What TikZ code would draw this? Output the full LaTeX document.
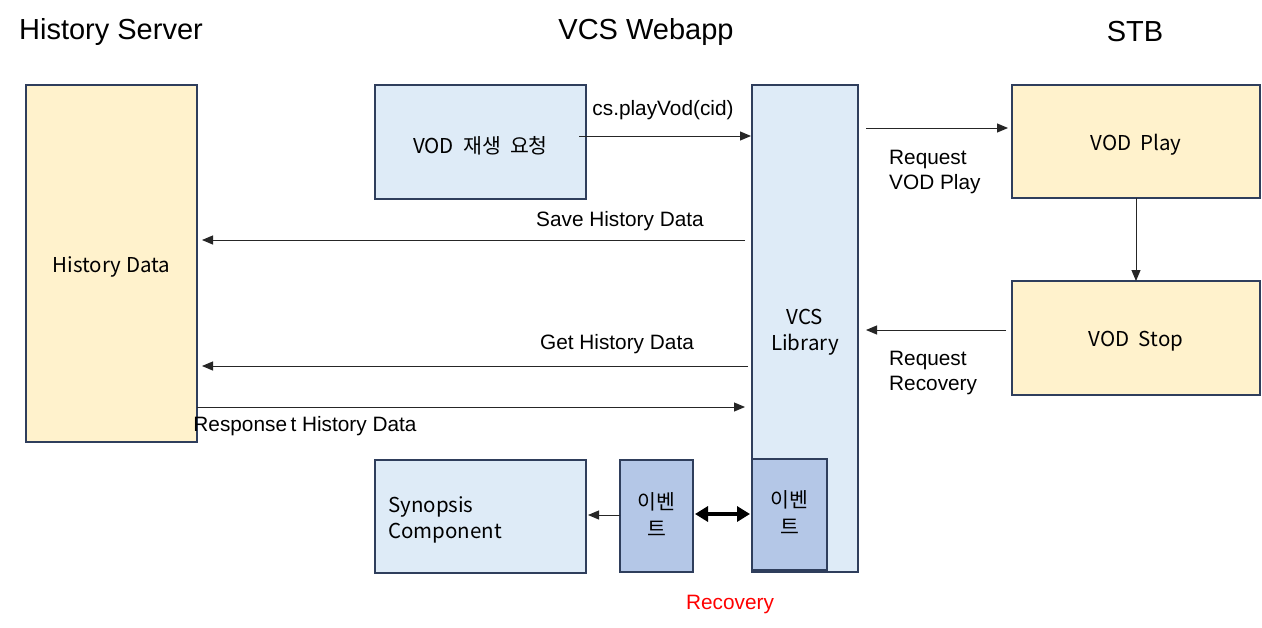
\documentclass[tikz,border=0pt]{standalone}
\usepackage{fontspec}
\setmainfont{Liberation Sans}
\newfontfamily\krfont{Noto Sans CJK KR}
\usetikzlibrary{arrows.meta}
\definecolor{bordc}{RGB}{47,62,92}
\definecolor{yel}{RGB}{255,242,204}
\definecolor{lblue}{RGB}{222,235,247}
\definecolor{dblue}{RGB}{180,199,231}
\definecolor{recred}{RGB}{255,0,0}
\begin{document}
\begin{tikzpicture}[x=1pt,y=-1pt,
  box/.style={draw=bordc, line width=1.5pt, inner sep=0pt, outer sep=0pt, anchor=north west},
  ybox/.style={box, fill=yel},
  bbox/.style={box, fill=lblue},
  dbox/.style={box, fill=dblue},
  btext/.style={font=\krfont\fontsize{20.5}{26}\selectfont, align=center, inner sep=0pt},
  conn/.style={draw=black!85, line width=1pt, -{Triangle[length=11pt,width=9pt]}},
  dconn/.style={draw=black, line width=4pt, {Triangle[length=13pt,width=15pt]}-{Triangle[length=13pt,width=15pt]}},
  lab/.style={font=\fontsize{20.8}{25}\selectfont, inner sep=0pt},
  ttl/.style={font=\fontsize{29}{32}\selectfont, inner sep=0pt}]
\useasboundingbox (0,0) rectangle (1262,627);
\fill[white] (0,0) rectangle (1262,627);

% titles
\node[ttl] (t1) at (111,32) {History Server};
\node[ttl] (t2) at (646,32) {VCS Webapp};
\node[ttl] (t3) at (1135,32) {STB};

% boxes
\node[ybox, minimum width=171, minimum height=357] (hist) at (26,85) {};
\node[bbox, minimum width=211, minimum height=114] (vodreq) at (375,85) {};
\node[bbox, minimum width=106, minimum height=487] (vcs) at (752,85) {};
\node[ybox, minimum width=248, minimum height=113] (play) at (1012,85) {};
\node[ybox, minimum width=248, minimum height=114] (stop) at (1012,281) {};
\node[bbox, minimum width=211, minimum height=113] (syn) at (375,460) {};
\node[dbox, minimum width=73, minimum height=112] (ev1) at (620,460) {};
\node[dbox, minimum width=75, minimum height=111] (ev2) at (752,459) {};
\draw[bordc, line width=2.5pt] (ev2.south west) -- (ev2.south east);

% box texts
\node[btext] (histtx) at ([yshift=-3.5pt]hist.center) {History Data};
\node[btext] (vodreqtx) at ([yshift=-3.5pt]vodreq.center) {VOD\ \ 재생\ \ 요청};
\node[btext] (vcstx) at ([yshift=-3.5pt]vcs.center) {VCS\\Library};
\node[btext] (playtx) at ([yshift=-3.5pt]play.center) {VOD\ \ Play};
\node[btext] (stoptx) at ([yshift=-3.5pt]stop.center) {VOD\ \ Stop};
\node[btext, align=left, anchor=west] (syntx) at ([xshift=13pt,yshift=-3.5pt]syn.west) {Synopsis\\Component};
\node[btext, font=\krfont\fontsize{20.5}{27}\selectfont] (ev1tx) at ([yshift=1.5pt]ev1.center) {이벤\\트};
\node[btext, font=\krfont\fontsize{20.5}{27}\selectfont] (ev2tx) at ([yshift=1.5pt]ev2.center) {이벤\\트};

% connectors
\draw[conn, shorten <=-7pt, shorten >=1pt] (vodreq.east |- 0,136) -- (vcs.west |- 0,136);
\draw[conn, shorten <=7pt, shorten >=5pt] (vcs.west |- 0,240) -- (hist.east |- 0,240);
\draw[conn, shorten <=4pt, shorten >=5pt] (vcs.west |- 0,366) -- (hist.east |- 0,366);
\draw[conn, shorten >=7pt] (hist.east |- 0,407) -- (vcs.west |- 0,407);
\draw[conn, shorten <=8pt, shorten >=4pt] (vcs.east |- 0,128) -- (play.west |- 0,128);
\draw[conn] (play.south) -- (stop.north);
\draw[conn, shorten <=6pt, shorten >=8pt] (stop.west |- 0,330) -- (vcs.east |- 0,330);
\draw[conn, shorten >=2pt] (ev1.west |- 0,515) -- (syn.east |- 0,515);
\draw[dconn, shorten <=2pt, shorten >=2pt] (ev1.east |- 0,514) -- (ev2.west |- 0,514);

% labels
\node[lab] (l1) at (663,110) {cs.playVod(cid)};
\node[lab] (l2) at (620,221) {Save History Data};
\node[lab] (l3) at (617,344) {Get History Data};
\node[lab] (l4) at (305,426) {Response\,t History Data};
\node[lab, anchor=west, align=left] (l5) at (889,171.5) {Request\\VOD Play};
\node[lab, anchor=west, align=left] (l6) at (889,372.5) {Request\\Recovery};
\node[lab, text=recred] (l7) at (730,604) {Recovery};
\end{tikzpicture}
\end{document}
